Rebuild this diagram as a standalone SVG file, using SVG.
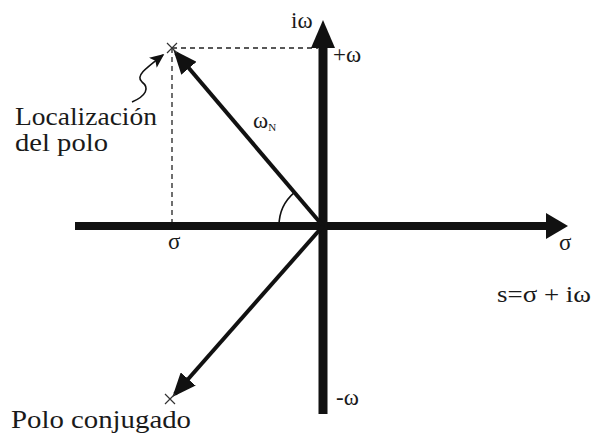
<svg xmlns="http://www.w3.org/2000/svg" width="593" height="438" viewBox="0 0 593 438">
<style>
text{font-family:"Liberation Serif","DejaVu Serif",serif;fill:#1a1a1a}
.lbl{font-size:25px}
.sym{font-size:23px}
.axis{stroke:#111;fill:none}
.dash{stroke:#222;stroke-width:1.3;stroke-dasharray:5,4;fill:none}
.vec{stroke:#111;stroke-width:4;fill:none}
.thin{stroke:#111;stroke-width:1.6;fill:none}
</style>
<defs>
<marker id="ah" markerWidth="6" markerHeight="5" refX="5" refY="2.5" orient="auto" markerUnits="strokeWidth">
<path d="M0,0 L6,2.5 L0,5 Z" fill="#111"/>
</marker>
<marker id="ahs" markerWidth="9" markerHeight="8" refX="8" refY="4" orient="auto" markerUnits="strokeWidth">
<path d="M0,0 L9,4 L0,8 L2,4 Z" fill="#111"/>
</marker>
</defs>
<rect width="593" height="438" fill="#fff"/>
<g id="connectors">
<line class="dash" x1="172" y1="48" x2="318" y2="48"/>
<line class="dash" x1="172" y1="48" x2="172" y2="222"/>
<line class="axis" x1="75" y1="226" x2="548" y2="226" stroke-width="8"/>
<path d="M568,226 L546,213 L546,239 Z" fill="#111"/>
<line class="axis" x1="323" y1="414" x2="323" y2="46" stroke-width="9"/>
<path d="M323,20 L311,48 L335,48 Z" fill="#111"/>
<line class="vec" x1="323" y1="226" x2="176" y2="53" marker-end="url(#ah)"/>
<line class="vec" x1="323" y1="226" x2="175" y2="394" marker-end="url(#ah)"/>
<path class="thin" d="M279,226 A44,44 0 0 1 294.5,192.4"/>
<path class="thin" d="M132,102 C146,96 150,88 142,82 C135,76 146,68 163,55" marker-end="url(#ahs)"/>
</g>
<g id="pole">
<path d="M167,43 L177,53 M177,43 L167,53" stroke="#333" stroke-width="1.2"/>
<text class="lbl" x="15" y="125" textLength="142" lengthAdjust="spacingAndGlyphs">Localización</text>
<text class="lbl" x="15" y="151" textLength="93" lengthAdjust="spacingAndGlyphs">del polo</text>
</g>
<g id="conjugate">
<path d="M165,394 L175,404 M175,394 L165,404" stroke="#333" stroke-width="1.2"/>
<text class="lbl" x="11" y="428" textLength="180" lengthAdjust="spacingAndGlyphs">Polo conjugado</text>
</g>
<g id="labels">
<text class="sym" x="291" y="28">iω</text>
<text class="sym" x="333" y="62">+ω</text>
<text class="sym" x="336" y="405">-ω</text>
<text class="sym" x="253" y="128" font-size="20">ω<tspan font-size="11" dy="3">N</tspan></text>
<text class="sym" x="168" y="249">σ</text>
<text class="sym" x="559" y="250">σ</text>
<text class="sym" x="497" y="302" textLength="94" lengthAdjust="spacingAndGlyphs">s=σ + iω</text>
</g>
</svg>
